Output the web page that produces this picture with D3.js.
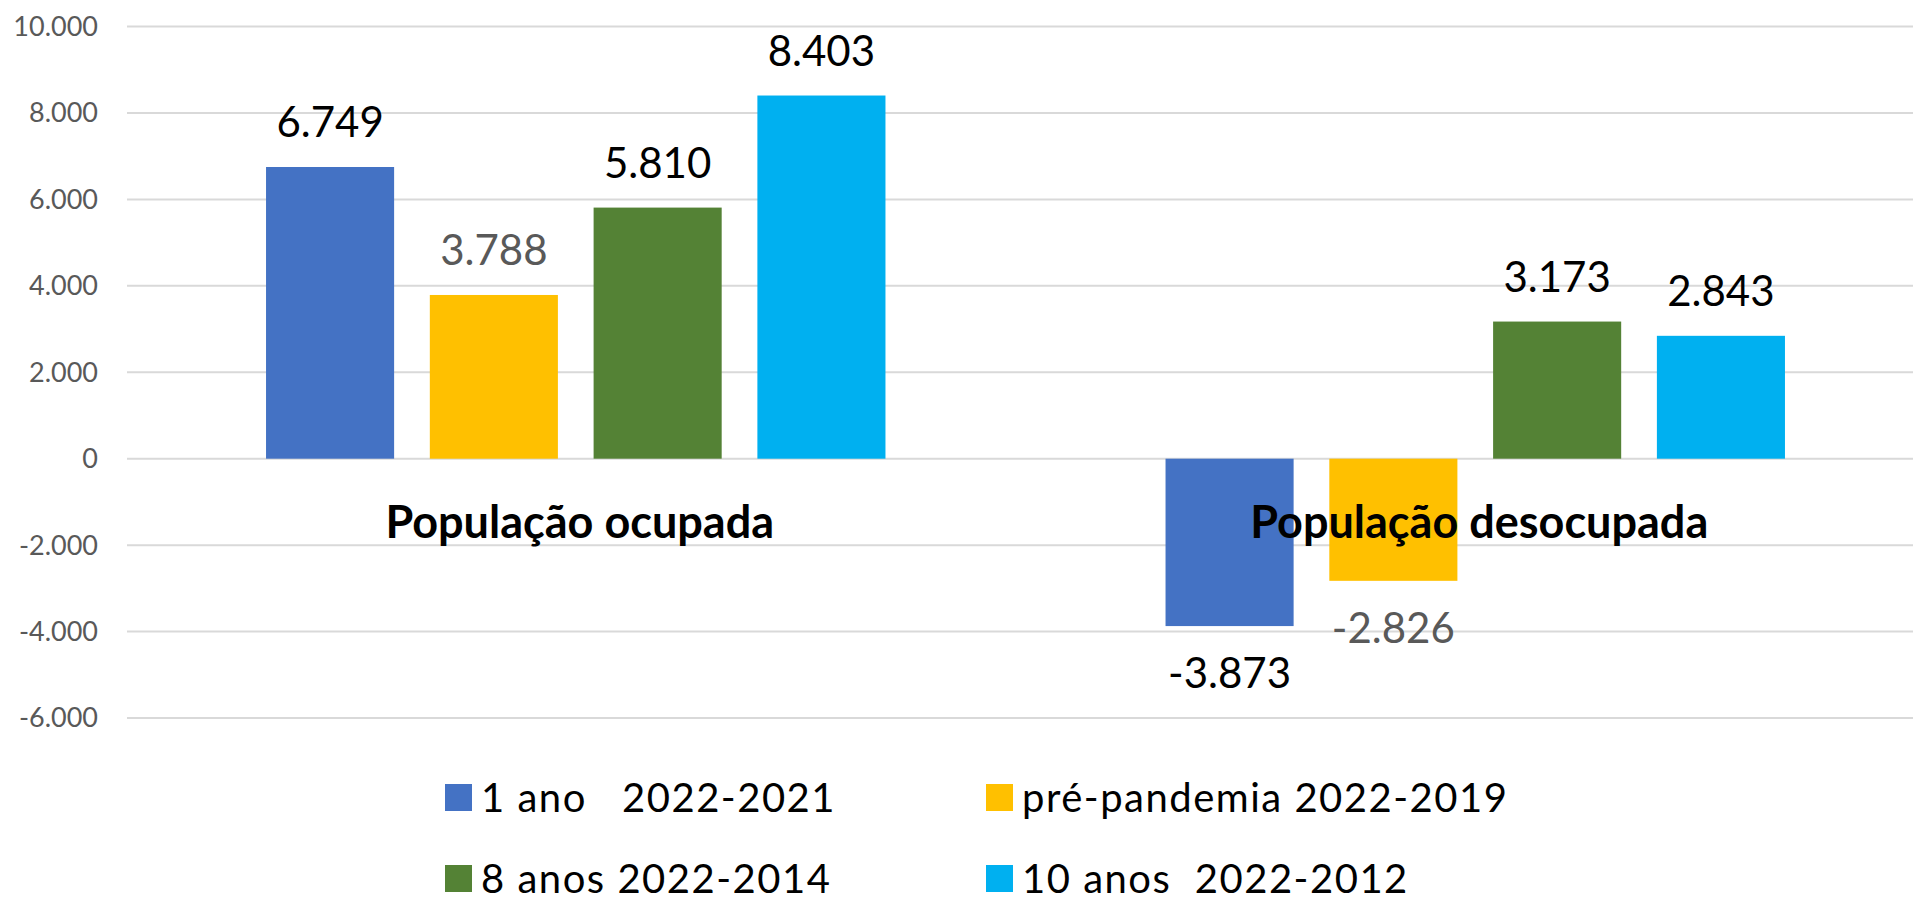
<!DOCTYPE html>
<html lang="pt">
<head>
<meta charset="UTF-8">
<title>População ocupada e desocupada</title>
<script src="https://cdn.jsdelivr.net/npm/d3@7"></script>
<style>
  html, body { margin: 0; padding: 0; background: #fff; }
  svg { display: block; font-family: Lato, "Open Sans", sans-serif; }
  .grid line { stroke: #d9d9d9; stroke-width: 2; }
  .tick-label { fill: #595959; font-size: 27px; }
  .value { font-size: 42px; }
  .cat { font-size: 45px; font-weight: bold; fill: #000; }
  .legend text { font-size: 40px; fill: #000; letter-spacing: 1.5px; }
</style>
</head>
<body>
<svg width="1913" height="899"></svg>
<script>
const categories = ["População ocupada", "População desocupada"];
const series = ["1 ano   2022-2021", "pré-pandemia 2022-2019", "8 anos 2022-2014", "10 anos  2022-2012"];
const colors = ["#4472C4", "#FFC000", "#548235", "#00B0F0"];
const labelColors = ["#000", "#595959", "#000", "#000"];
const valuesOcupada = [6749, 3788, 5810, 8403];
const valuesDesocupada = [-3873, -2826, 3173, 2843];
const yTicks = [-6000, -4000, -2000, 0, 2000, 4000, 6000, 8000, 10000];

const table = [valuesOcupada, valuesDesocupada];
const data = [];
categories.forEach((c, ci) => {
    series.forEach((s, si) => data.push({ cat: c, s: si, v: table[ci][si] }));
});

const svg = d3.select("svg");
const fmt = d3.formatLocale({ decimal: ",", thousands: ".", grouping: [3], currency: ["R$", ""], minus: "-" }).format(",d");

const y = d3.scaleLinear().domain([-6000, 10000]).range([718, 26.5]);
const x0 = d3.scaleBand().domain(categories).range([126, 1925]);
const x1 = d3.scaleBand().domain(d3.range(series.length))
    .range([0, x0.bandwidth()])
    .paddingInner(0.218)
    .paddingOuter(0.855);

// gridlines
svg.append("g").attr("class", "grid")
    .selectAll("line").data(yTicks).join("line")
    .attr("x1", 127).attr("x2", 1913)
    .attr("y1", d => y(d)).attr("y2", d => y(d));

svg.append("g")
    .selectAll("text").data(yTicks).join("text")
    .attr("class", "tick-label")
    .attr("x", 98).attr("y", d => y(d))
    .attr("dy", "0.35em")
    .attr("text-anchor", "end")
    .text(d => fmt(d));

// bars
svg.append("g")
    .selectAll("rect").data(data).join("rect")
    .attr("x", d => x0(d.cat) + x1(d.s))
    .attr("width", x1.bandwidth())
    .attr("y", d => y(Math.max(0, d.v)))
    .attr("height", d => Math.abs(y(d.v) - y(0)))
    .attr("fill", d => colors[d.s]);

// category labels
svg.append("g")
    .selectAll("text").data(categories).join("text")
    .attr("class", "cat")
    .attr("x", d => x0(d) + x0.bandwidth() / 2 + 4)
    .attr("y", 538)
    .attr("text-anchor", "middle")
    .text(d => d);

// value labels
svg.append("g")
    .selectAll("text").data(data).join("text")
    .attr("class", "value")
    .attr("x", d => x0(d.cat) + x1(d.s) + x1.bandwidth() / 2)
    .attr("y", d => d.v >= 0 ? y(d.v) - 30 : y(d.v) + 62)
    .attr("text-anchor", "middle")
    .attr("fill", d => labelColors[d.s])
    .text(d => fmt(d.v));

// legend
const legendX = [445, 986];
const legendY = [797.5, 878.5];
const leg = svg.append("g").attr("class", "legend")
    .selectAll("g").data(series).join("g")
    .attr("transform", (d, i) => `translate(${legendX[i % 2]},${legendY[Math.floor(i / 2)]})`);
leg.append("rect")
    .attr("x", 0).attr("y", -13.5)
    .attr("width", 27).attr("height", 27)
    .attr("fill", (d, i) => colors[i]);
leg.append("text")
    .attr("x", 36).attr("y", 14.5)
    .attr("xml:space", "preserve")
    .style("white-space", "pre")
    .text(d => d);
</script>
</body>
</html>
